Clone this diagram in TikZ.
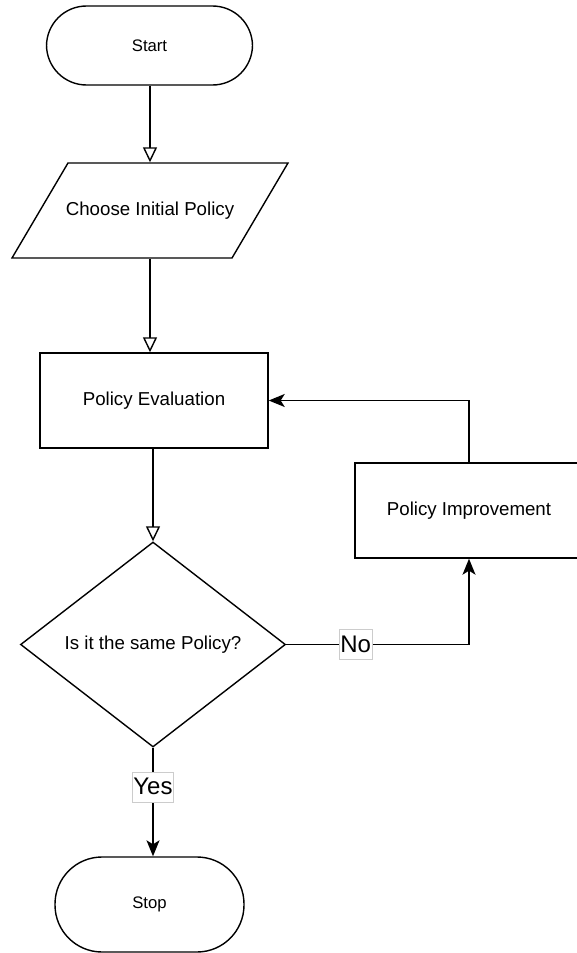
\documentclass[tikz,border=0pt]{standalone}
\usepackage{fontspec}
\setmainfont{Liberation Sans}
\usetikzlibrary{shapes.geometric,arrows.meta,positioning}
\begin{document}
\begin{tikzpicture}[x=1pt,y=1pt,
  line width=1.4pt,
  box/.style={draw, rectangle, minimum width=228pt, minimum height=95pt, inner sep=0pt, font=\fontsize{18.7}{22}\selectfont},
  term/.style={draw, rectangle, rounded corners=#1, inner sep=0pt, font=\fontsize{16.7}{20}\selectfont},
  openarr/.style={-{Triangle[open, length=15pt, width=14pt, line width=1.4pt]}},
  fillarr/.style={-{Stealth[length=16pt, width=13pt, inset=4pt]}},
  lbl/.style={fill=white, draw=black!20, line width=0.6pt, inner sep=1pt, minimum height=30pt, font=\fontsize{24}{28}\selectfont}
]
\useasboundingbox (0,0) rectangle (576,-953);

\node[term=40pt, minimum width=206pt, minimum height=79pt] (start) at (149.5,-45.5) {Start};

\node[minimum width=220pt, minimum height=95pt, inner sep=0pt, font=\fontsize{18.7}{22}\selectfont] (choose) at (150,-210.5) {Choose Initial Policy};
\draw (choose.center) ++(-82,47.5) -- ++(220,0) -- ++(-56,-95) -- ++(-220,0) -- cycle;

\node[box] (pe) at (154,-400.5) {Policy Evaluation};

\node[draw, diamond, minimum width=265pt, minimum height=205pt, inner sep=0pt, font=\fontsize{18.7}{22}\selectfont] (dec) at (153,-644.5) {Is it the same Policy?};

\node[box] (pi) at (469,-510.5) {Policy Improvement};

\node[term=47pt, minimum width=189pt, minimum height=95pt] (stop) at (149.5,-904.5) {Stop};

\draw[openarr] (choose.north |- start.south) -- (choose.north);
\draw[openarr] (choose.south) -- (choose.south |- pe.north);
\draw[openarr] (dec.north |- pe.south) -- (dec.north);
\draw[fillarr] (dec.east) -| node[lbl, pos=0.19] (no) {No} (pi.south);
\draw[fillarr] (pi.north) |- (pe.east);
\draw[fillarr] (dec.south) -- node[lbl, pos=0.36] (yes) {Yes} (dec.south |- stop.north);
\end{tikzpicture}
\end{document}
